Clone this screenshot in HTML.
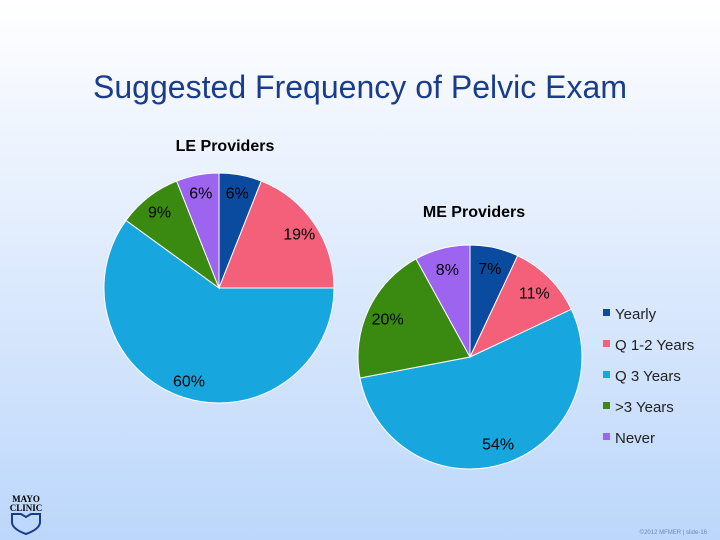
<!DOCTYPE html>
<html><head><meta charset="utf-8"><style>
body{margin:0;width:720px;height:540px;overflow:hidden;font-family:"Liberation Sans",sans-serif}
#bg{position:absolute;left:0;top:0;width:720px;height:540px;background:linear-gradient(#ffffff 0%,#eef4fe 25%,#bcd7fb 100%)}
</style></head><body>
<div id="bg"></div>
<svg id="c" width="720" height="540" style="position:absolute;left:0;top:0">
<text x="360" y="98" text-anchor="middle" font-size="32" textLength="534" fill="#1a3c8c">Suggested Frequency of Pelvic Exam</text>
<text x="225" y="151" text-anchor="middle" font-size="16" font-weight="bold" fill="#000">LE Providers</text>
<text x="474" y="217" text-anchor="middle" font-size="16" font-weight="bold" fill="#000">ME Providers</text>
<g id="pies"></g>
<g id="legend"></g>
<g>
<text x="26" y="502" text-anchor="middle" font-family="Liberation Serif,serif" font-size="9" font-weight="bold">MAYO</text>
<text x="26" y="511" text-anchor="middle" font-family="Liberation Serif,serif" font-size="9" font-weight="bold">CLINIC</text>
<path d="M12 514 h9 l5 3 l5 -3 h9 v8 q0 7 -14 12 q-14 -5 -14 -12z" fill="none" stroke="#1a3c8c" stroke-width="2"/>
</g>
<text x="707" y="534" text-anchor="end" font-size="6" fill="#6a8ab8">©2012 MFMER | slide-16</text>
</svg>
<script>
const categories=["Yearly","Q 1-2 Years","Q 3 Years",">3 Years","Never"];
const colors=["#0a4ba0","#f4607a","#17a7de","#3a8a12","#9c64ef"];
const leValues=[6,19,60,9,6];
const meValues=[7,11,54,20,8];
const NS="http://www.w3.org/2000/svg";
const pies=document.getElementById('pies');
function pie(vals,cx,cy,r,lr,name){
  const tot=vals.reduce((a,b)=>a+b,0);let cum=0;
  vals.forEach((v,i)=>{
    const a0=cum/tot*2*Math.PI;cum+=v;const a1=cum/tot*2*Math.PI;
    const x0=cx+r*Math.sin(a0),y0=cy-r*Math.cos(a0),x1=cx+r*Math.sin(a1),y1=cy-r*Math.cos(a1);
    const p=document.createElementNS(NS,'path');
    p.setAttribute('d',`M${cx} ${cy} L${x0} ${y0} A${r} ${r} 0 ${a1-a0>Math.PI?1:0} 1 ${x1} ${y1}Z`);
    p.setAttribute('fill',colors[i]);p.setAttribute('stroke','#fff');p.setAttribute('stroke-width','1');
    
    
    pies.appendChild(p);
    const am=(a0+a1)/2;
    const t=document.createElementNS(NS,'text');
    t.setAttribute('x',cx+lr*Math.sin(am));t.setAttribute('y',cy-lr*Math.cos(am)+6);
    t.setAttribute('text-anchor','middle');t.setAttribute('font-size','16');t.setAttribute('fill','#000');
    t.textContent=v+'%';
    
    
    pies.appendChild(t);
  });
}
pie(leValues,219,288,115,97,'le');
pie(meValues,470,357,112,91,'me');
const lg=document.getElementById('legend');
categories.forEach((c,i)=>{
  const y=313+i*31;
  const r=document.createElementNS(NS,'rect');
  r.setAttribute('x',603);r.setAttribute('y',y-4);r.setAttribute('width',7);r.setAttribute('height',7);r.setAttribute('fill',colors[i]);
  
  
  lg.appendChild(r);
  const t=document.createElementNS(NS,'text');
  t.setAttribute('x',615);t.setAttribute('y',y+6);t.setAttribute('font-size','15');t.setAttribute('fill','#222');
  t.textContent=c;
  
  
  lg.appendChild(t);
});
</script>
</body></html>
